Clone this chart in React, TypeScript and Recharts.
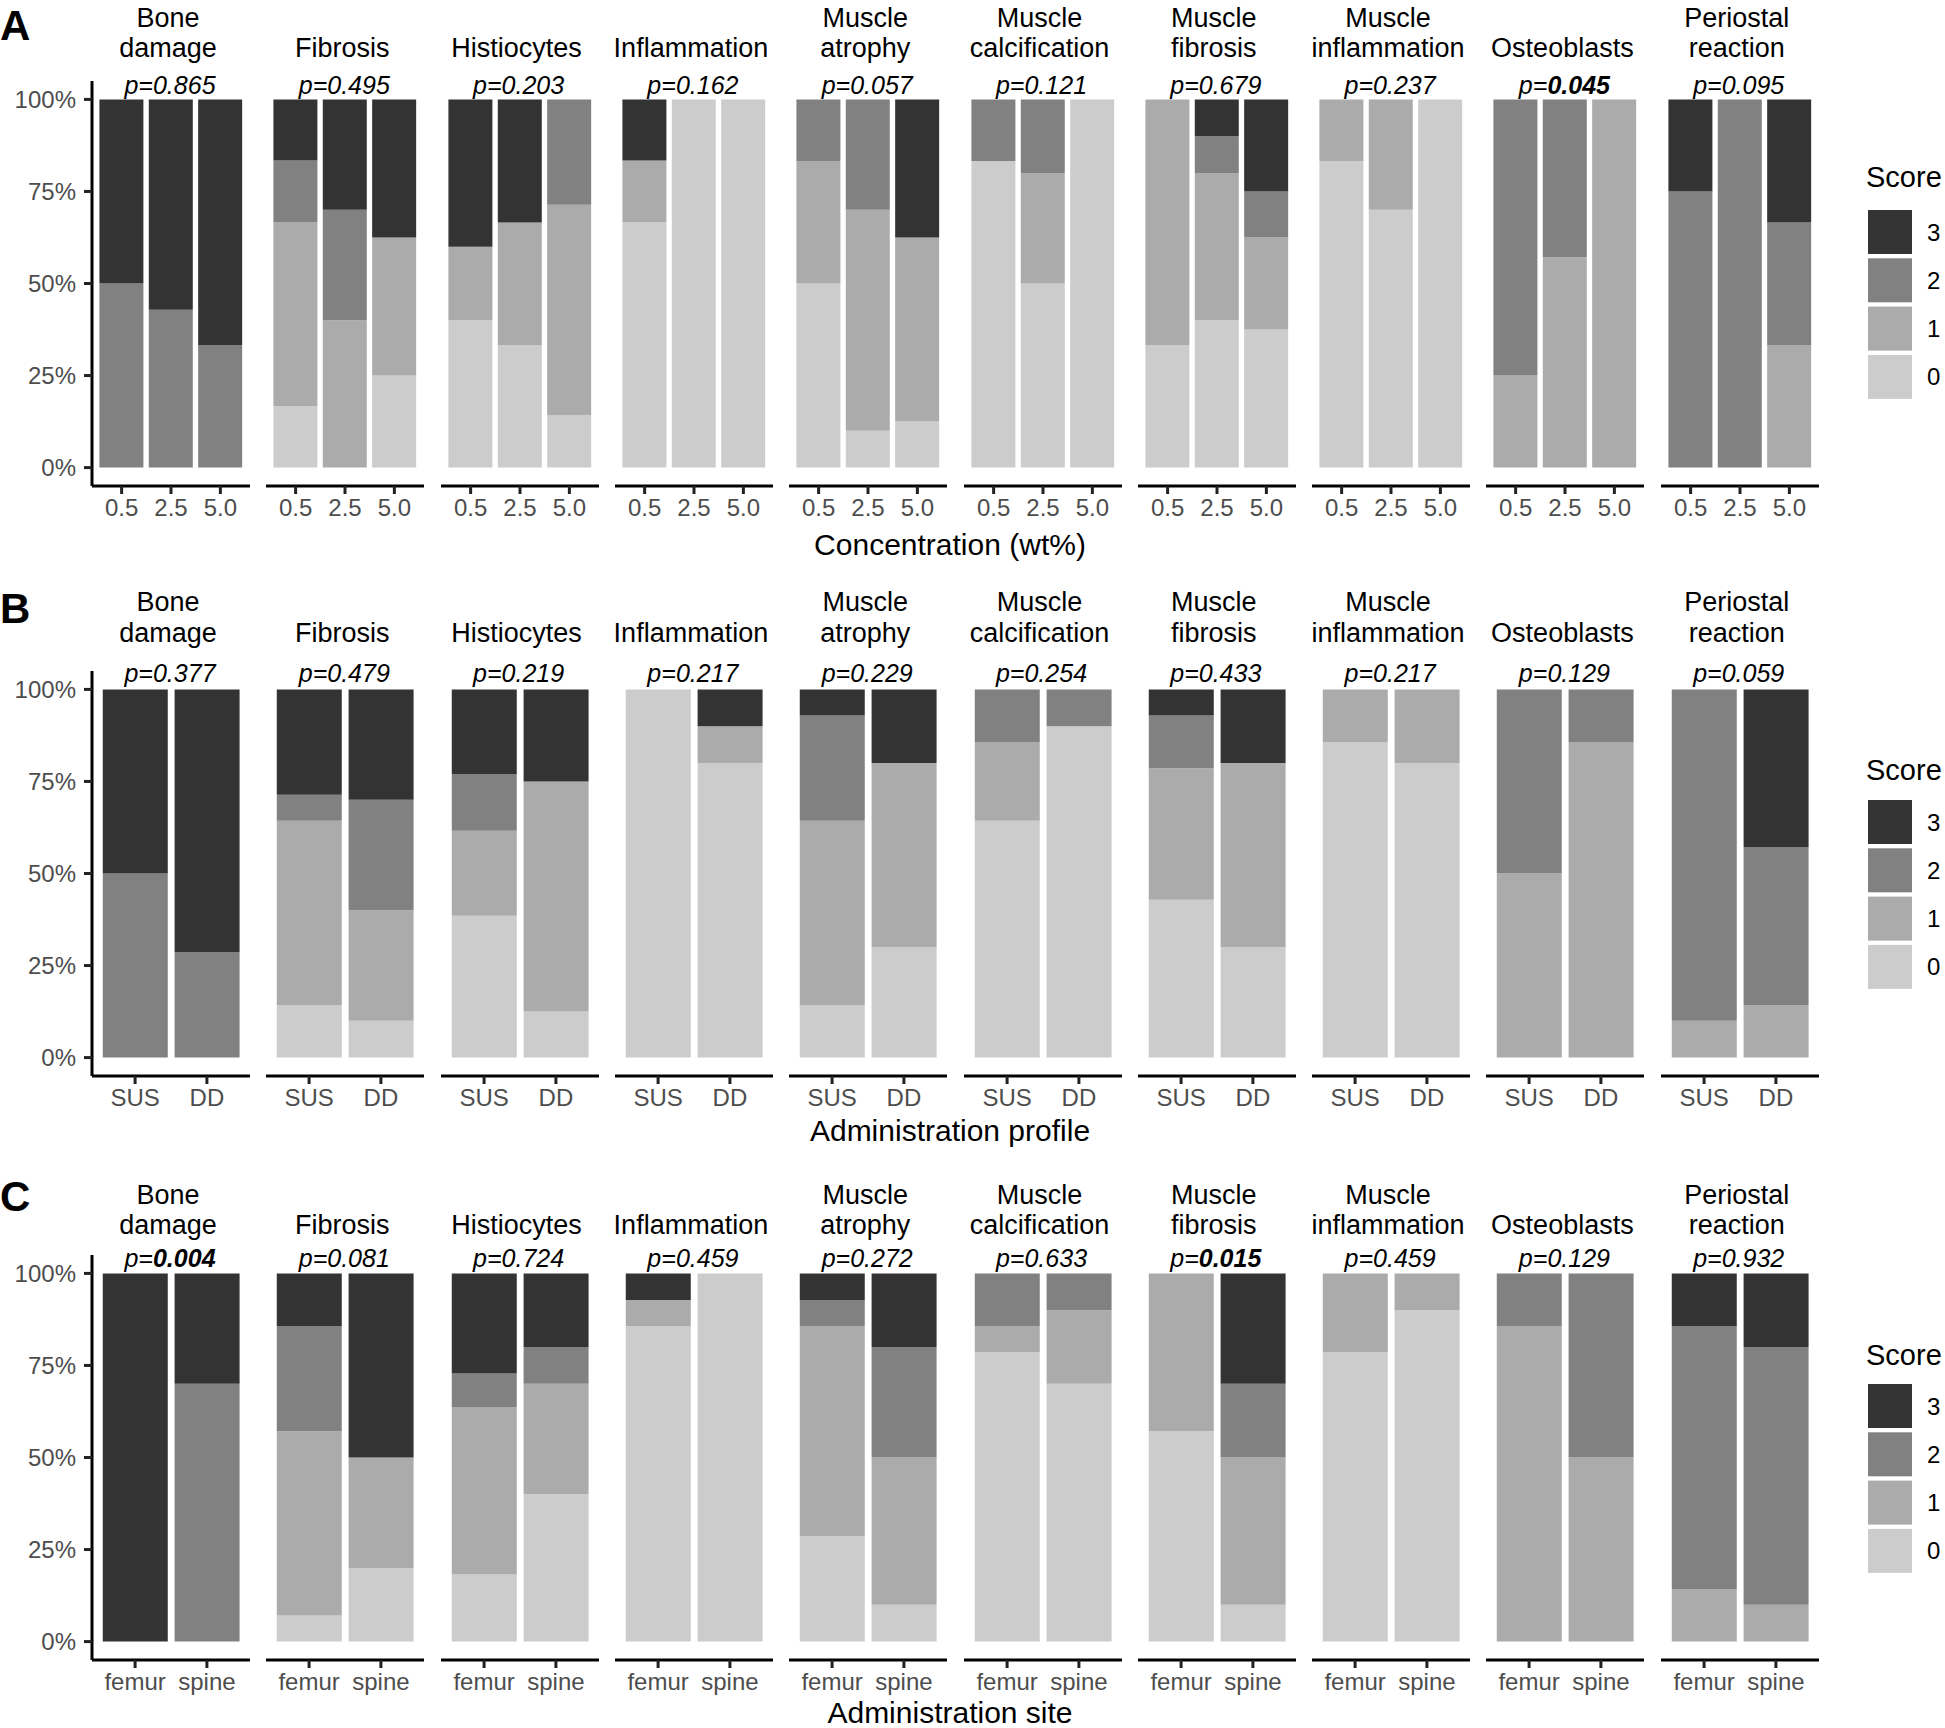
import React from 'react';
import { BarChart, Bar, XAxis, YAxis } from 'recharts';

// facets (same in every row)
const features = [
  'Bone damage', 'Fibrosis', 'Histiocytes', 'Inflammation', 'Muscle atrophy',
  'Muscle calcification', 'Muscle fibrosis', 'Muscle inflammation', 'Osteoblasts', 'Periostal reaction',
];

const concentrations = ['0.5', '2.5', '5.0'];
const profiles = ['SUS', 'DD'];
const sites = ['femur', 'spine'];

const scoreLevels = ['0', '1', '2', '3'];
const scoreColors = ['#CCCCCC', '#ABABAB', '#818181', '#333333'];

// % of samples with score 0,1,2,3 — per feature, per group
const concentrationScores = [
  [[0, 0, 50, 50], [0, 0, 42.9, 57.1], [0, 0, 33.3, 66.7]],
  [[16.7, 50, 16.7, 16.6], [0, 40, 30, 30], [25, 37.5, 0, 37.5]],
  [[40, 20, 0, 40], [33.3, 33.3, 0, 33.4], [14.3, 57.1, 28.6, 0]],
  [[66.7, 16.7, 0, 16.6], [100, 0, 0, 0], [100, 0, 0, 0]],
  [[50, 33.3, 16.7, 0], [10, 60, 30, 0], [12.5, 50, 0, 37.5]],
  [[83.3, 0, 16.7, 0], [50, 30, 20, 0], [100, 0, 0, 0]],
  [[33.3, 66.7, 0, 0], [40, 40, 10, 10], [37.5, 25, 12.5, 25]],
  [[83.3, 16.7, 0, 0], [70, 30, 0, 0], [100, 0, 0, 0]],
  [[0, 25, 75, 0], [0, 57.1, 42.9, 0], [0, 100, 0, 0]],
  [[0, 0, 75, 25], [0, 0, 100, 0], [0, 33.3, 33.3, 33.4]],
];

const profileScores = [
  [[0, 0, 50, 50], [0, 0, 28.6, 71.4]],
  [[14.3, 50, 7.1, 28.6], [10, 30, 30, 30]],
  [[38.5, 23.1, 15.4, 23.0], [12.5, 62.5, 0, 25]],
  [[100, 0, 0, 0], [80, 10, 0, 10]],
  [[14.3, 50, 28.6, 7.1], [30, 50, 0, 20]],
  [[64.3, 21.4, 14.3, 0], [90, 0, 10, 0]],
  [[42.9, 35.7, 14.3, 7.1], [30, 50, 0, 20]],
  [[85.7, 14.3, 0, 0], [80, 20, 0, 0]],
  [[0, 50, 50, 0], [0, 85.7, 14.3, 0]],
  [[0, 10, 90, 0], [0, 14.3, 42.9, 42.8]],
];

const siteScores = [
  [[0, 0, 0, 100], [0, 0, 70, 30]],
  [[7.1, 50, 28.6, 14.3], [20, 30, 0, 50]],
  [[18.2, 45.5, 9.1, 27.2], [40, 30, 10, 20]],
  [[85.7, 7.1, 0, 7.2], [100, 0, 0, 0]],
  [[28.6, 57.1, 7.1, 7.2], [10, 40, 30, 20]],
  [[78.6, 7.1, 14.3, 0], [70, 20, 10, 0]],
  [[57.1, 42.9, 0, 0], [10, 40, 20, 30]],
  [[78.6, 21.4, 0, 0], [90, 10, 0, 0]],
  [[0, 85.7, 14.3, 0], [0, 50, 50, 0]],
  [[0, 14.3, 71.4, 14.3], [0, 10, 70, 20]],
];

const pConcentration = ['0.865', '0.495', '0.203', '0.162', '0.057', '0.121', '0.679', '0.237', '0.045', '0.095'];
const pProfile = ['0.377', '0.479', '0.219', '0.217', '0.229', '0.254', '0.433', '0.217', '0.129', '0.059'];
const pSite = ['0.004', '0.081', '0.724', '0.459', '0.272', '0.633', '0.015', '0.459', '0.129', '0.932'];

const yTicks = [0, 25, 50, 75, 100];

// layout (px)
const FONT = '"Liberation Sans", Arial, Helvetica, sans-serif';
const PANEL_X0 = 92;
const PANEL_PITCH = 174.3;
const PANEL_W = 158;
const PANEL_H = 405;
const Y_AXIS_W = 92;
const X_AXIS_H = 60;

const rows = [
  {
    letter: 'A', groups: concentrations, scores: concentrationScores, pValues: pConcentration,
    axisTitle: 'Concentration (wt%)', panelTop: 81, titleBase: [27, 57], pBase: 93.5,
    letterBase: 40, axisTitleBase: 555, legendTitleBase: 187, legendTop: 210,
  },
  {
    letter: 'B', groups: profiles, scores: profileScores, pValues: pProfile,
    axisTitle: 'Administration profile', panelTop: 670.5, titleBase: [611, 642], pBase: 682,
    letterBase: 623, axisTitleBase: 1141, legendTitleBase: 780, legendTop: 800,
  },
  {
    letter: 'C', groups: sites, scores: siteScores, pValues: pSite,
    axisTitle: 'Administration site', panelTop: 1255, titleBase: [1204, 1234], pBase: 1267,
    letterBase: 1211, axisTitleBase: 1723, legendTitleBase: 1365, legendTop: 1384,
  },
];

const Facet = ({ groups, scores, showY, left, top }: {
  groups: string[]; scores: number[][]; showY: boolean; left: number; top: number;
}) => {
  const data = groups.map((g, i) => ({
    group: g, s0: scores[i][0], s1: scores[i][1], s2: scores[i][2], s3: scores[i][3],
  }));
  // ggplot-like discrete spacing: 0.6 units of expansion at each side, bars 0.9 wide
  const unit = PANEL_W / (groups.length + 0.2);
  const pad = unit * 0.1;
  const yW = showY ? Y_AXIS_W : 0;
  const rightGap = 3;

  return (
    <div style={{ position: 'absolute', left: left - yW, top }}>
      <BarChart
        width={PANEL_W + yW + rightGap}
        height={PANEL_H + X_AXIS_H}
        data={data}
        margin={{ top: 0, right: rightGap, bottom: 0, left: 0 }}
        barCategoryGap="5%"
      >
        <XAxis
          dataKey="group"
          height={X_AXIS_H}
          interval={0}
          padding={{ left: pad, right: pad }}
          tickSize={8}
          tickMargin={5}
          axisLine={{ stroke: '#000', strokeWidth: 3 }}
          tickLine={{ stroke: '#222', strokeWidth: 3 }}
          tick={{ fill: '#4D4D4D', fontSize: 24, fontFamily: FONT }}
        />
        <YAxis
          hide={!showY}
          width={yW}
          type="number"
          domain={[-5, 105]}
          allowDataOverflow
          ticks={yTicks}
          interval={0}
          tickFormatter={(v) => `${v}%`}
          tickSize={8}
          tickMargin={8}
          axisLine={{ stroke: '#000', strokeWidth: 3 }}
          tickLine={{ stroke: '#222', strokeWidth: 3 }}
          tick={{ fill: '#4D4D4D', fontSize: 24, fontFamily: FONT }}
        />
        {scoreLevels.map((lvl, j) => (
          <Bar key={lvl} dataKey={`s${lvl}`} stackId="score" fill={scoreColors[j]} isAnimationActive={false} />
        ))}
      </BarChart>
    </div>
  );
};

const Overlay = () => (
  <svg
    width={1945}
    height={1728}
    style={{ position: 'absolute', left: 0, top: 0, pointerEvents: 'none' }}
    fontFamily={FONT}
  >
    {rows.map((row) => (
      <g key={row.letter}>
        <text x={0} y={row.letterBase} fontSize={42} fontWeight="bold" fill="#000">{row.letter}</text>
        {features.map((f, i) => {
          const cx = PANEL_X0 + i * PANEL_PITCH + PANEL_W / 2;
          const lines = f.split(' ');
          const bases = lines.length === 2 ? row.titleBase : [row.titleBase[1]];
          const p = row.pValues[i];
          const sig = parseFloat(p) < 0.05;
          return (
            <g key={f}>
              {lines.map((ln, k) => (
                <text key={k} x={cx - 3} y={bases[k]} fontSize={27} textAnchor="middle" fill="#000">{ln}</text>
              ))}
              <text x={cx - 1} y={row.pBase} fontSize={25} fontStyle="italic" textAnchor="middle" fill="#000">
                <tspan>p=</tspan>
                <tspan fontWeight={sig ? 'bold' : 'normal'}>{p}</tspan>
              </text>
            </g>
          );
        })}
        <text x={950} y={row.axisTitleBase} fontSize={30} textAnchor="middle" fill="#000">{row.axisTitle}</text>
        <text x={1866} y={row.legendTitleBase} fontSize={29} fill="#000">Score</text>
        {[...scoreLevels].reverse().map((lvl, k) => {
          const y = row.legendTop + k * 48.3;
          return (
            <g key={lvl}>
              <rect x={1868} y={y} width={44} height={44} fill={scoreColors[3 - k]} />
              <text x={1927} y={y + 30.5} fontSize={24} fill="#000">{lvl}</text>
            </g>
          );
        })}
      </g>
    ))}
  </svg>
);

export default function App() {
  return (
    <div style={{ position: 'absolute', left: 0, top: 0, width: 1945, height: 1728, background: '#fff', fontFamily: FONT, overflow: 'hidden' }}>
      {rows.map((row) =>
        features.map((f, i) => (
          <Facet
            key={`${row.letter}-${f}`}
            groups={row.groups}
            scores={row.scores[i]}
            showY={i === 0}
            left={PANEL_X0 + i * PANEL_PITCH}
            top={row.panelTop}
          />
        ))
      )}
      <Overlay />
    </div>
  );
}
